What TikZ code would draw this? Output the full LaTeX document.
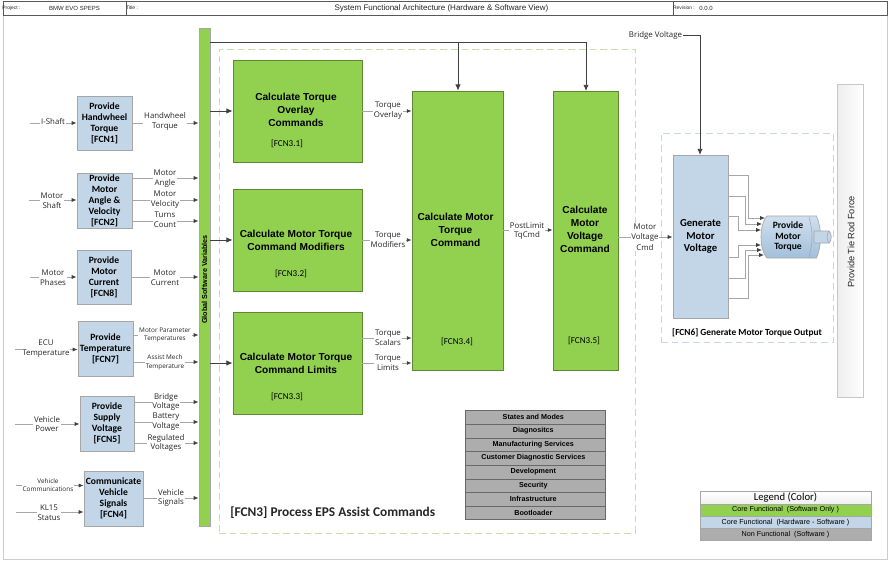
\documentclass[tikz,border=0pt]{standalone}
\usepackage{fontspec}
\setmainfont{Liberation Sans}
\newfontfamily\crlf{Carlito}
\newfontfamily\sgf{Open Sans}
\usetikzlibrary{arrows.meta,calc}
\definecolor{cgreen}{HTML}{92D050}
\definecolor{cblue}{HTML}{C2D6E8}
\definecolor{cgray}{HTML}{ADADAD}
\definecolor{edge}{HTML}{A6A6A6}
\definecolor{dark}{HTML}{404040}
\definecolor{txt}{HTML}{262626}
\definecolor{dgreen}{HTML}{C6E0A4}
\definecolor{dblue}{HTML}{C5D5EA}
\definecolor{mtop}{HTML}{CFE0EF}
\definecolor{mbot}{HTML}{A3BFDA}
\tikzset{
  x=0.75pt,y=-0.75pt,
  boxbase/.style={inner sep=0pt,align=center,text=black},
  fblue/.style={boxbase,fill=cblue,draw=edge,line width=0.7pt,font=\crlf\bfseries\fontsize{7.2}{8.2}\selectfont},
  fgreen/.style={boxbase,fill=cgreen,draw=black!35!cgreen,line width=0.6pt},
  ftitle/.style={inner sep=0pt,align=center,font=\bfseries\fontsize{7.6}{9.7}\selectfont},
  fid/.style={inner sep=0pt,font=\crlf\fontsize{6.8}{8}\selectfont,text=black},
  sig/.style={inner sep=0.6pt,fill=white,align=center,text=txt,font=\sgf\fontsize{5.9}{7.4}\selectfont},
  sigsmall/.style={sig,font=\sgf\fontsize{4.8}{6.4}\selectfont},
  conn/.style={draw=edge,line width=0.55pt,-{Latex[length=3.6pt,width=3pt,color=dark]}},
  mainconn/.style={draw=dark,line width=0.65pt,-{Latex[length=4.6pt,width=4pt,color=dark]}},
  plainmain/.style={draw=dark,line width=0.65pt},
  stackrow/.style={boxbase,fill=cgray,draw=black!40!cgray,line width=0.5pt,font=\bfseries\fontsize{5.4}{6}\selectfont},
  legrow/.style={boxbase,line width=0.5pt,draw=edge,font=\fontsize{5.4}{6}\selectfont},
  bar/.style={boxbase,draw=black!65,line width=0.5pt},
  bartext/.style={inner sep=0pt,font=\fontsize{3.7}{5}\selectfont,text=txt},
}
\newcommand{\bx}[6]{\node[#6,minimum width={(#4-#2)*0.75pt},minimum height={(#5-#3)*0.75pt}] (#1) at ({(#2+#4)/2},{(#3+#5)/2}) {};}
\newcommand{\bxt}[7]{\node[#6,minimum width={(#4-#2)*0.75pt},minimum height={(#5-#3)*0.75pt}] (#1) at ({(#2+#4)/2},{(#3+#5)/2}) {#7};}
\newcommand{\srow}[1]{#1\hspace*{2.5pt}}
\begin{document}
\begin{tikzpicture}
\useasboundingbox (0,0) rectangle (891,561);
\fill[white] (0,0) rectangle (891,561);
% frame and title bar
\node[draw=black!20,line width=0.7pt,inner sep=0pt,minimum width={884*0.75pt},minimum height={544*0.75pt}] (frame) at (445,287) {};
\bx{bar1}{3}{1}{126}{15}{bar}
\bx{bar2}{126}{1}{673}{15}{bar}
\bx{bar3}{673}{1}{887}{15}{bar}
\node[bartext] (tproj) at (11.5,8) {Project :};
\node[bartext,font=\fontsize{4.5}{5}\selectfont] (tname) at (74.5,8) {BMW EVO SPEPS};
\node[bartext] (ttitle) at (132,8) {Title :};
\node[bartext,font=\fontsize{6}{7}\selectfont] (tsys) at (441.5,8) {System Functional Architecture (Hardware \& Software View)};
\node[bartext] (trev) at (684,8) {Revision :};
\node[bartext,font=\fontsize{4.5}{5}\selectfont] (tver) at (706,8) {0.0.0};
% dashed groups
\bx{grp3}{219}{49}{635}{533}{draw=dgreen,line width=0.6pt,dash pattern=on 5pt off 3pt,inner sep=0pt}
\bx{grp6}{661}{133}{833}{342}{draw=dblue,line width=0.6pt,dash pattern=on 5pt off 3pt,inner sep=0pt}
% bus
\bxt{bus}{199}{28}{210}{526}{boxbase,fill=cgreen,draw=edge,line width=0.7pt}{}
\node[rotate=90,inner sep=0pt,font=\bfseries\fontsize{5.4}{6}\selectfont] (bustext) at (204.5,279.5) {Global Software Variables};
% provider boxes
\bxt{f1}{77}{96}{132}{150}{fblue}{Provide\\Handwheel\\Torque\\{}[FCN1]}
\bxt{f2}{77}{173}{132}{228}{fblue}{Provide\\Motor\\Angle \&\\Velocity\\{}[FCN2]}
\bxt{f8}{77}{250}{131}{304}{fblue}{Provide\\Motor\\Current\\{}[FCN8]}
\bxt{f7}{78}{321}{133}{376}{fblue}{Provide\\Temperature\\{}[FCN7]}
\bxt{f5}{80}{396}{134}{451}{fblue}{Provide\\Supply\\Voltage\\{}[FCN5]}
\bxt{f4}{84}{471}{143}{526}{fblue}{Communicate\\Vehicle\\Signals\\{}[FCN4]}
% calculate boxes
\bx{c1}{233}{60}{362}{162}{fgreen}
\bx{c2}{233}{189}{362}{291}{fgreen}
\bx{c3}{233}{312}{362}{414}{fgreen}
\bx{c4}{412}{91}{503}{370}{fgreen}
\bx{c5}{553}{91}{618}{370}{fgreen}
\node[ftitle] (c1t) at (296,110) {Calculate Torque\\Overlay\\Commands};
\node[fid] (c1i) at (287,144) {[FCN3.1]};
\node[ftitle] (c2t) at (296,240) {Calculate Motor Torque\\Command Modifiers};
\node[fid] (c2i) at (291,274) {[FCN3.2]};
\node[ftitle] (c3t) at (296,363) {Calculate Motor Torque\\Command Limits};
\node[fid] (c3i) at (287,397) {[FCN3.3]};
\node[ftitle] (c4t) at (455.5,229.5) {Calculate Motor\\Torque\\Command};
\node[fid] (c4i) at (457,342) {[FCN3.4]};
\node[ftitle] (c5t) at (585,229.5) {Calculate\\Motor\\Voltage\\Command};
\node[fid] (c5i) at (584,341) {[FCN3.5]};
% generate and motor
\bxt{gen}{673}{155}{728}{318}{fblue,font=\crlf\bfseries\fontsize{8}{9.4}\selectfont}{Generate\\Motor\\Voltage}
\node[inner sep=0pt,font=\crlf\bfseries\fontsize{7}{8}\selectfont] (g6) at (747,333) {[FCN6] Generate Motor Torque Output};
\draw[edge,line width=0.5pt,top color=mtop,bottom color=mbot]
  (767,216) -- (816.5,216) .. controls (819,222) and (820.6,230) .. (820.6,237) .. controls (820.6,244) and (819,252) .. (816.5,258) -- (767,258) .. controls (762,252) and (761,244) .. (761,237) .. controls (761,230) and (762,222) .. (767,216) -- cycle;
\draw[edge,line width=0.4pt] (809,217) .. controls (811,224) and (812,231) .. (812,237) .. controls (812,243) and (811,250) .. (809,257);
\fill[cblue,draw=edge,line width=0.5pt] (814,231) -- (829,231) .. controls (832,233) and (832,241) .. (829,243) -- (814,243) -- cycle;
\draw[edge,line width=0.4pt] (829,231) .. controls (826.5,233) and (826.5,241) .. (829,243);
\node[inner sep=0pt,align=center,font=\crlf\bfseries\fontsize{7.2}{8}\selectfont] (motor) at (788,236.5) {Provide\\Motor\\Torque};
% tie rod
\bxt{tie}{837}{84}{863}{397}{boxbase,draw=black!22,line width=0.7pt,left color=black!7,right color=white}{}
\node[rotate=90,inner sep=0pt,font=\fontsize{6.9}{8}\selectfont,text=txt] (tiet) at (851,242) {Provide Tie Rod Force};
% motor wires
\coordinate (m1) at (765,218);\coordinate (m2) at (762,224);\coordinate (m3) at (761,230);
\coordinate (m4) at (761,245);\coordinate (m5) at (762,250);\coordinate (m6) at (764,255);
\draw[conn] (gen.east |- 0,175) -| (748,218) -- (m1);
\draw[conn] (gen.east |- 0,196) -| (745.5,224) -- (m2);
\draw[conn] (gen.east |- 0,216) -| (738,230) -- (m3);
\draw[conn] (gen.east |- 0,257) -| (738,245) -- (m4);
\draw[conn] (gen.east |- 0,278) -| (745.5,250) -- (m5);
\draw[conn] (gen.east |- 0,298) -| (748,255) -- (m6);
% main dark connectors
\coordinate (top1) at (458,42);
\draw[plainmain] (bus.east |- 0,42) -- (top1);
\draw[mainconn] (top1) -- (c4.north -| top1);
\draw[mainconn] (top1) -| (586,91);
\draw[mainconn] (bus.east |- 0,111) -- (c1.west |- 0,111);
\draw[mainconn] (bus.east |- 0,240) -- (c2.west |- 0,240);
\draw[mainconn] (bus.east |- 0,363) -- (c3.west |- 0,363);
\node[inner sep=0.5pt,text=txt,font=\sgf\fontsize{5.9}{7}\selectfont] (bv) at (655.5,35) {Bridge Voltage};
\draw[mainconn] (bv.east) -| (700,155);
% coordinates of free ends
\coordinate (i1) at (30,123);\coordinate (i2) at (29,200);\coordinate (i3) at (30,277);
\coordinate (i4) at (15,349.5);\coordinate (i5) at (15,424);\coordinate (i6) at (16,485.5);\coordinate (i7) at (16,512);
% signal connectors
\draw[conn] (i1) -- (f1.west |- i1);
\draw[conn] (i2) -- (f2.west |- i2);
\draw[conn] (i3) -- (f8.west |- i3);
\draw[conn] (i4) -- (f7.west |- i4);
\draw[conn] (i5) -- (f5.west |- i5);
\draw[conn] (i6) -- (f4.west |- i6);
\draw[conn] (i7) -- (f4.west |- i7);
\draw[conn] (f1.east |- 0,123) -- (bus.west |- 0,123);
\draw[conn] (f2.east |- 0,178) -- (bus.west |- 0,178);
\draw[conn] (f2.east |- 0,200) -- (bus.west |- 0,200);
\draw[conn] (f2.east |- 0,221) -- (bus.west |- 0,221);
\draw[conn] (f8.east |- 0,277) -- (bus.west |- 0,277);
\draw[conn] (f7.east |- 0,335) -- (bus.west |- 0,335);
\draw[conn] (f7.east |- 0,362) -- (bus.west |- 0,362);
\draw[conn] (f5.east |- 0,402) -- (bus.west |- 0,402);
\draw[conn] (f5.east |- 0,422) -- (bus.west |- 0,422);
\draw[conn] (f5.east |- 0,443) -- (bus.west |- 0,443);
\draw[conn] (f4.east |- 0,498) -- (bus.west |- 0,498);
\draw[conn] (c1.east |- 0,111) -- (c4.west |- 0,111);
\draw[conn] (c2.east |- 0,240) -- (c4.west |- 0,240);
\draw[conn] (c3.east |- 0,338) -- (c4.west |- 0,338);
\draw[conn] (c3.east |- 0,363) -- (c4.west |- 0,363);
\draw[conn] (c4.east |- 0,230) -- (c5.west |- 0,230);
\draw[conn] (c5.east |- 0,237) -- (gen.west |- 0,237);
% signal labels
\node[sig] (l1) at (53,122) {I-Shaft};
\node[sig] (l2) at (52,201) {Motor\\Shaft};
\node[sig] (l3) at (53,278) {Motor\\Phases};
\node[sig] (l4) at (46,349) {ECU\\Temperature};
\node[sig] (l5) at (47,424) {Vehicle\\Power};
\node[sigsmall] (l6) at (48,485) {Vehicle\\Communications};
\node[sig] (l7) at (49,512.5) {KL15\\Status};
\node[sig] (o1) at (165,121.5) {Handwheel\\Torque};
\node[sig] (o2) at (165,178.5) {Motor\\Angle};
\node[sig] (o3) at (165,200) {Motor\\Velocity};
\node[sig] (o4) at (165,220) {Turns\\Count};
\node[sig] (o5) at (165,277.5) {Motor\\Current};
\node[sigsmall] (o6) at (165,335) {Motor Parameter\\Temperatures};
\node[sigsmall] (o7) at (165,362.5) {Assist Mech\\Temperature};
\node[sig] (o8) at (166,402) {Bridge\\Voltage};
\node[sig] (o9) at (166,422) {Battery\\Voltage};
\node[sig] (o10) at (166,443) {Regulated\\Voltages};
\node[sig] (o11) at (171,498) {Vehicle\\Signals};
\node[sig] (p1) at (388,111) {Torque\\Overlay};
\node[sig] (p2) at (388,240) {Torque\\Modifiers};
\node[sig] (p3) at (388,338) {Torque\\Scalars};
\node[sig] (p4) at (388,363) {Torque\\Limits};
\node[sig] (p5) at (527,231) {PostLimit\\TqCmd};
\node[sig,font=\sgf\fontsize{5.9}{8}\selectfont] (p6) at (645,237) {Motor\\Voltage\\Cmd};
% group title
\node[inner sep=0pt,font=\crlf\bfseries\fontsize{10}{11}\selectfont,text=txt,anchor=west] (g3) at (230,513) {[FCN3] Process EPS Assist Commands};
% stack
\bxt{s1}{465}{410}{605}{424}{stackrow}{\srow{States and Modes}}
\bxt{s2}{465}{424}{605}{438}{stackrow}{\srow{Diagnositcs}}
\bxt{s3}{465}{438}{605}{451}{stackrow}{\srow{Manufacturing Services}}
\bxt{s4}{465}{451}{605}{465}{stackrow}{\srow{Customer Diagnostic Services}}
\bxt{s5}{465}{465}{605}{479}{stackrow}{\srow{Development}}
\bxt{s6}{465}{479}{605}{492}{stackrow}{\srow{Security}}
\bxt{s7}{465}{492}{605}{506}{stackrow}{\srow{Infrastructure}}
\bxt{s8}{465}{506}{605}{519}{stackrow}{\srow{Bootloader}}
% legend
\bxt{lg0}{700}{491.5}{871}{504}{legrow,top color=white,bottom color=black!6,font=\crlf\fontsize{8}{9}\selectfont}{Legend (Color)}
\bxt{lg1}{700}{504}{871}{516}{legrow,fill=cgreen}{Core Functional~ (Software Only )}
\bxt{lg2}{700}{516}{871}{528.5}{legrow,fill=cblue}{Core Functional~ (Hardware - Software )}
\bxt{lg3}{700}{528.5}{871}{540}{legrow,fill=cgray}{Non Functional~ (Software )}
\end{tikzpicture}
\end{document}
